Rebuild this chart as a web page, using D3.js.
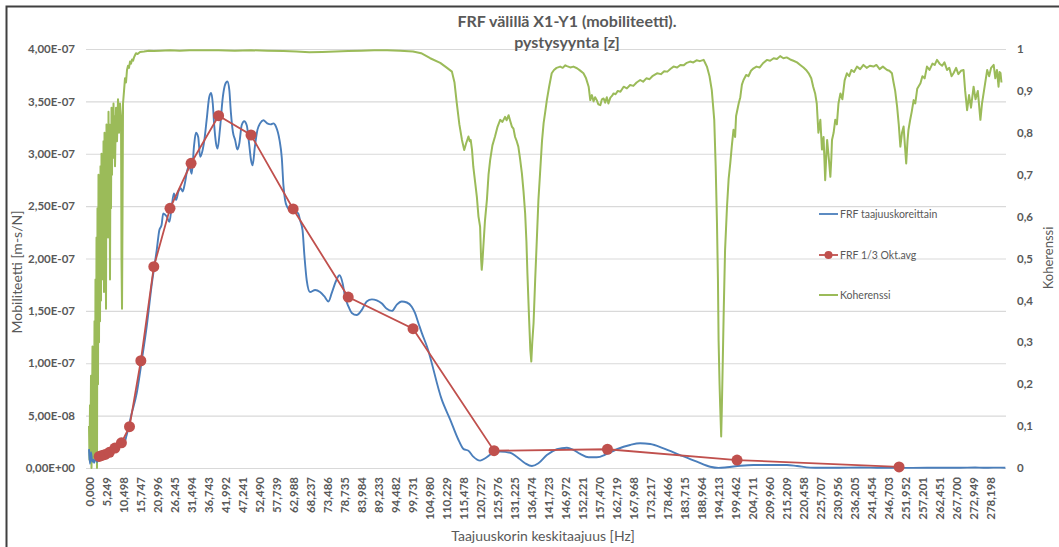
<!DOCTYPE html>
<html>
<head>
<meta charset="utf-8">
<script src="https://cdn.jsdelivr.net/npm/d3@7"></script>
<style>
  html, body { margin: 0; padding: 0; background: #fff; }
  svg { display: block; font-family: Lato, "Open Sans", sans-serif; }
</style>
</head>
<body>
<svg id="chart" width="1059" height="547"></svg>
<script>
// ---- Data -----------------------------------------------------------------

const titleLines = ["FRF välillä X1-Y1 (mobiliteetti).", "pystysyynta [z]"];
const xAxisTitle = "Taajuuskorin keskitaajuus [Hz]";
const yLeftTitle = "Mobiliteetti [m-s/N]";
const yRightTitle = "Koherenssi";
const seriesNames = ["FRF taajuuskoreittain", "FRF 1/3 Okt.avg", "Koherenssi"];

// Bin-centre frequency labels shown under the axis [Hz]
const xTickLabels = [
  "0,000","5,249","10,498","15,747","20,996","26,245","31,494","36,743","41,992","47,241",
  "52,490","57,739","62,988","68,237","73,486","78,735","83,984","89,233","94,482","99,731",
  "104,980","110,229","115,478","120,727","125,976","131,225","136,474","141,723","146,972","152,221",
  "157,470","162,719","167,968","173,217","178,466","183,715","188,964","194,213","199,462","204,711",
  "209,960","215,209","220,458","225,707","230,956","236,205","241,454","246,703","251,952","257,201",
  "262,451","267,700","272,949","278,198"
];
const yLeftTicks = [0, 5e-8, 1e-7, 1.5e-7, 2e-7, 2.5e-7, 3e-7, 3.5e-7, 4e-7];
const yRightTicks = [0, 0.1, 0.2, 0.3, 0.4, 0.5, 0.6, 0.7, 0.8, 0.9, 1];

// FRF values are listed in units of 1e-8 m-s/N
const frfUnit = 1e-8;

// FRF per frequency bin: [Hz, mobility / 1e-8]
const frfPerBin = [
  [0.0,1.8],[0.3,0.4],[0.6,1.5],[1.0,0.6],[1.3,0.8],[1.6,0.5],[2.0,0.9],[2.5,0.6],[3.0,0.8],
  [3.5,1.1],[4.0,0.9],[4.5,1.3],[5.0,1.2],[5.5,1.4],[6.0,1.2],[6.5,1.6],[7.0,1.5],[7.5,1.8],
  [8.0,1.6],[8.5,2.0],[9.0,1.7],[9.5,2.4],[10.0,2.2],[10.5,2.8],[11.0,2.5],[11.5,3.0],[12.0,3.6],
  [13.0,5.0],[14.7,7.1],[16.3,10.3],[17.8,13.5],[19.4,17.6],[20.9,20.8],[21.7,22.7],[22.4,23.2],
  [22.9,24.3],[24.0,24.0],[24.8,23.5],[25.5,24.9],[26.2,26.2],[26.9,25.6],[27.6,26.4],[28.3,26.7],
  [28.9,26.4],[29.6,27.2],[30.3,28.4],[31.0,28.8],[31.7,28.1],[32.4,30.7],[33.0,32.0],[33.7,31.6],
  [34.3,29.7],[35.1,30.4],[35.6,31.3],[36.3,33.2],[37.1,35.4],[37.7,35.8],[38.2,34.8],[38.6,32.9],
  [39.2,31.0],[39.7,30.5],[40.4,32.3],[41.3,35.4],[42.0,36.6],[42.7,36.9],[43.3,36.1],[43.8,33.9],
  [44.4,32.1],[45.1,31.3],[45.8,30.4],[46.4,31.0],[47.1,32.7],[47.9,33.1],[48.7,32.7],[49.4,31.0],
  [50.0,29.4],[50.5,28.9],[51.2,30.7],[52.0,32.3],[52.8,32.9],[53.8,33.2],[55.0,32.9],[56.1,32.8],
  [56.9,32.9],[57.7,32.6],[58.8,31.3],[59.5,29.6],[60.0,27.0],[60.5,25.6],[61.2,24.9],[62.1,24.6],
  [63.6,24.5],[64.6,24.3],[65.1,23.7],[65.9,22.7],[66.5,20.2],[67.2,17.9],[68.2,16.8],[69.8,17.0],
  [71.3,16.8],[72.6,16.4],[73.9,15.9],[74.9,16.7],[76.3,17.9],[77.3,18.4],[78.3,17.6],[79.0,16.4],
  [80.1,15.4],[81.1,14.8],[82.6,14.6],[84.2,15.1],[85.7,15.9],[87.3,16.1],[88.8,16.0],[90.4,15.7],
  [91.9,15.2],[93.5,15.0],[95.0,15.6],[96.5,15.9],[98.1,15.8],[99.6,15.4],[100.6,14.8],[101.7,13.8],
  [102.7,12.9],[104.3,11.6],[108.9,6.5],[111.5,4.6],[114.0,2.7],[115.6,1.8],[117.1,1.65],[118.6,1.08],
  [120.7,0.70],[122.3,0.93],[124.8,1.46],[126.9,1.56],[130.0,1.46],[132.0,1.08],[134.6,0.45],
  [136.7,0.19],[138.7,0.45],[141.3,1.24],[144.4,1.79],[147.5,1.94],[149.5,1.72],[151.6,1.34],
  [154.2,1.02],[156.7,1.02],[159.8,1.34],[162.9,1.79],[167.0,2.20],[170.1,2.36],[173.2,2.29],
  [177.3,1.88],[182.4,1.24],[187.6,0.60],[191.7,0.12],[194.3,0.01],[196.9,0.07],[201.0,0.22],
  [205.1,0.29],[210.2,0.29],[215.4,0.29],[218.5,0.19],[222.6,0.04],[225.7,0.02],[230.8,0.02],
  [238.0,0.05],[243.2,0.03],[250.4,0.01],[258.6,0.02],[268.9,0.03],[273.5,0.05],[276.0,0.02],
  [279.1,0.04],[282.8,0.03]
];

// One-third octave band averages: [centre Hz, mobility / 1e-8]
const frfThirdOctave = [
  [3.15,1.10],[4,1.20],[5,1.30],[6.3,1.50],[8,1.90],[10,2.40],[12.5,3.94],[16,10.24],[20,19.22],
  [25,24.79],[31.5,29.09],[40,33.63],[50,31.79],[63,24.73],[80,16.32],[100,13.30],[125,1.65],
  [160,1.79],[200,0.76],[250,0.10]
];

// Coherence per frequency bin: [Hz, coherence]
const coherence = [
  [0.00,0.10],[0.15,0.02],[0.31,0.15],[0.46,0.05],[0.62,0.22],[0.77,0.00],[0.93,0.12],[1.08,0.29],
  [1.23,0.02],[1.39,0.25],[1.54,0.08],[1.70,0.35],[1.85,0.03],[2.00,0.45],[2.16,0.12],[2.32,0.55],
  [2.47,0.00],[2.62,0.62],[2.78,0.20],[2.93,0.70],[3.09,0.30],[3.24,0.60],[3.40,0.35],[3.55,0.72],
  [3.70,0.40],[3.86,0.75],[4.01,0.45],[4.17,0.68],[4.32,0.50],[4.48,0.78],[4.63,0.42],[4.79,0.80],
  [4.94,0.55],[5.09,0.72],[5.25,0.38],[5.40,0.82],[5.56,0.60],[5.71,0.75],[5.87,0.55],[6.02,0.85],
  [6.17,0.60],[6.33,0.82],[6.48,0.45],[6.64,0.80],[6.79,0.62],[6.95,0.86],[7.10,0.70],[7.26,0.85],
  [7.41,0.74],[7.56,0.87],[7.72,0.76],[7.87,0.84],[8.03,0.72],[8.34,0.86],[8.64,0.78],[8.95,0.88],
  [9.26,0.80],[9.57,0.87],[9.88,0.84],[10.03,0.50],[10.19,0.38],[10.34,0.60],[10.50,0.87],
  [10.81,0.90],[11.11,0.93],[11.42,0.92],[11.73,0.95],[12.04,0.96],[12.35,0.955],[12.66,0.97],
  [12.97,0.965],[13.28,0.975],[13.60,0.972],[13.89,0.98],[14.20,0.985],[14.51,0.99],[15.00,0.988],
  [15.75,0.993],[17,0.994],[18.5,0.996],[20,0.995],[22,0.996],[25,0.997],[28,0.996],[31,0.997],
  [35,0.997],[40,0.997],[45,0.996],[50,0.997],[55,0.996],[60,0.995],[64,0.994],[68,0.992],[72,0.993],
  [76,0.994],[80,0.995],[84,0.996],[88,0.997],[92,0.997],[96,0.996],[100,0.994],[102.5,0.990],
  [105.3,0.978],[108.4,0.967],[110.5,0.955],[112.0,0.946],[112.8,0.92],[113.5,0.871],[114.3,0.82],
  [115.1,0.783],[115.8,0.759],[116.4,0.775],[117.1,0.791],[117.5,0.780],[117.8,0.783],[118.2,0.76],
  [118.6,0.719],[119.2,0.68],[119.7,0.647],[120.2,0.60],[120.7,0.576],[121.0,0.50],[121.2,0.473],
  [121.4,0.49],[121.7,0.528],[122.2,0.59],[122.8,0.640],[123.3,0.70],[123.8,0.735],[124.5,0.77],
  [125.3,0.791],[126.1,0.815],[126.9,0.831],[127.6,0.826],[128.4,0.838],[128.9,0.830],[129.5,0.842],
  [130.0,0.828],[130.5,0.815],[131.0,0.81],[131.5,0.79],[132.0,0.78],[132.5,0.767],[133.0,0.74],
  [133.6,0.703],[134.1,0.66],[134.6,0.608],[135.0,0.54],[135.3,0.465],[135.8,0.36],[136.2,0.282],
  [136.5,0.254],[136.8,0.30],[137.2,0.346],[137.7,0.45],[138.2,0.544],[138.7,0.64],[139.2,0.703],
  [139.8,0.78],[140.3,0.823],[140.8,0.85],[141.3,0.878],[142.0,0.91],[142.8,0.942],[143.5,0.950],
  [144.3,0.955],[145.4,0.958],[146.2,0.955],[147.0,0.961],[147.5,0.959],[148.5,0.956],[149.5,0.958],
  [150.6,0.954],[151.5,0.949],[152.6,0.942],[153.4,0.93],[154.2,0.910],[154.7,0.878],[155.2,0.89],
  [155.7,0.875],[156.2,0.885],[156.7,0.878],[157.2,0.868],[157.8,0.866],[158.3,0.88],[158.8,0.882],
  [159.3,0.872],[159.8,0.885],[160.3,0.870],[160.9,0.884],[161.4,0.888],[161.9,0.894],[162.5,0.892],
  [163.2,0.900],[164.0,0.898],[165.0,0.910],[166,0.906],[167,0.914],[168,0.912],[169,0.920],
  [170.1,0.926],[171,0.922],[172,0.930],[173,0.928],[174,0.936],[175.3,0.942],[176.5,0.940],
  [177.5,0.947],[178.5,0.946],[179.5,0.953],[180.4,0.958],[181.5,0.956],[182.5,0.962],[183.5,0.961],
  [184.5,0.967],[185.5,0.970],[186.5,0.968],[187.5,0.973],[188.5,0.971],[189.7,0.974],[190.2,0.966],
  [190.7,0.958],[191.5,0.935],[192.2,0.902],[192.96,0.831],[193.4,0.72],[193.8,0.585],[194.1,0.45],
  [194.3,0.305],[194.6,0.20],[194.8,0.146],[195.1,0.075],[195.3,0.14],[195.6,0.258],[195.9,0.38],
  [196.3,0.52],[196.9,0.624],[197.4,0.69],[197.9,0.727],[198.4,0.77],[198.9,0.807],[199.4,0.79],
  [199.7,0.84],[200.5,0.870],[201.0,0.885],[201.5,0.915],[202.0,0.926],[202.8,0.938],[203.5,0.935],
  [204.3,0.948],[205.1,0.954],[206,0.958],[207,0.956],[208,0.966],[209.2,0.974],[210.2,0.972],
  [211.3,0.978],[212.3,0.976],[213.3,0.983],[214.3,0.978],[215.3,0.980],[216.4,0.975],[217.4,0.972],
  [218.5,0.968],[219.5,0.962],[220.5,0.956],[221.3,0.950],[222.1,0.942],[222.9,0.93],[223.5,0.91],
  [224.1,0.894],[224.6,0.87],[225.1,0.80],[225.7,0.831],[226.2,0.76],[226.7,0.79],[227.2,0.687],
  [227.5,0.74],[227.8,0.783],[228.3,0.74],[228.8,0.695],[229.1,0.74],[229.3,0.783],[229.8,0.80],
  [230.3,0.831],[230.8,0.82],[231.3,0.870],[231.9,0.894],[232.5,0.88],[233.2,0.925],[233.9,0.942],
  [234.6,0.935],[235.3,0.950],[236.1,0.945],[237.0,0.958],[238,0.952],[239,0.962],[240,0.955],
  [241,0.960],[242.1,0.958],[243,0.962],[244,0.952],[245,0.958],[246.3,0.950],[247.0,0.948],
  [247.8,0.942],[248.3,0.92],[248.8,0.90],[249.4,0.862],[249.9,0.82],[250.4,0.767],[250.9,0.80],
  [251.4,0.815],[251.8,0.77],[252.2,0.727],[252.6,0.78],[252.9,0.807],[253.4,0.83],[253.9,0.85],
  [254.5,0.878],[255.0,0.87],[255.6,0.905],[256.6,0.918],[257.2,0.935],[257.9,0.93],[258.6,0.958],
  [259.4,0.95],[260.3,0.965],[261.0,0.962],[261.7,0.974],[262.5,0.965],[263.3,0.960],[264.0,0.968],
  [264.8,0.950],[265.5,0.955],[266.2,0.935],[266.8,0.942],[267.6,0.955],[268.3,0.940],[269.1,0.948],
  [269.9,0.950],[270.4,0.90],[271.0,0.854],[271.6,0.89],[272.2,0.86],[273.0,0.910],[273.6,0.88],
  [274.3,0.90],[275.1,0.831],[275.6,0.87],[276.2,0.90],[277.2,0.950],[277.8,0.935],[278.4,0.955],
  [279.2,0.962],[279.7,0.93],[280.2,0.95],[280.7,0.910],[281.0,0.945],[281.3,0.943],[281.6,0.92]
];

// ---- Layout ---------------------------------------------------------------

const W = 1059, H = 547;
const plot = { left: 86, right: 1006, top: 49, bottom: 468 };
const colors = { frf: "#4a7ebb", avg: "#c0504d", coh: "#9bbb59", text: "#595959", grid: "#d9d9d9" };

const svg = d3.select("#chart");

// chart frame
svg.append("rect")
  .attr("x", 6.5).attr("y", 6.5)
  .attr("width", W + 20).attr("height", H + 20)
  .attr("fill", "#fff").attr("stroke", "#404040").attr("stroke-width", 2);

const x = d3.scaleLinear().domain([0, 283]).range([89, plot.right]);
const yL = d3.scaleLinear().domain([0, 4e-7]).range([plot.bottom, plot.top]);
const yR = d3.scaleLinear().domain([0, 1]).range([plot.bottom, plot.top]);

const parseNum = s => +s.replace(",", ".");

// number formats with decimal comma
const sciFmt = v => {
  const [m, e] = v.toExponential(2).split("e");
  const sign = e[0] === "-" ? "-" : "+";
  const digits = e.replace(/[+-]/, "").padStart(2, "0");
  return m.replace(".", ",") + "E" + sign + digits;
};
const cohFmt = v => d3.format("~g")(+v.toFixed(2)).replace(".", ",");

// gridlines (primary axis)
svg.append("g")
  .attr("transform", `translate(${plot.left},0)`)
  .call(d3.axisLeft(yL).tickValues(yLeftTicks).tickSize(-(plot.right - plot.left)).tickFormat(""))
  .call(g => g.select(".domain").remove())
  .call(g => g.selectAll("line").attr("stroke", colors.grid).attr("stroke-width", 1.2));

// left axis labels
svg.append("g")
  .attr("transform", `translate(${plot.left},0)`)
  .call(d3.axisLeft(yL).tickValues(yLeftTicks).tickSize(0).tickPadding(11).tickFormat(sciFmt))
  .call(g => g.select(".domain").remove())
  .call(g => g.selectAll("text")
    .attr("fill", colors.text).style("font-size", "11.5px").style("font-weight", "bold")
    .style("font-family", "Lato, sans-serif"));

// right axis labels
svg.append("g")
  .attr("transform", `translate(${plot.right},0)`)
  .call(d3.axisRight(yR).tickValues(yRightTicks).tickSize(0).tickPadding(11).tickFormat(cohFmt))
  .call(g => g.select(".domain").remove())
  .call(g => g.selectAll("text")
    .attr("fill", colors.text).style("font-size", "11.5px").style("font-weight", "bold")
    .style("font-family", "Lato, sans-serif"));

// bottom axis labels, rotated
svg.append("g")
  .attr("transform", `translate(0,${plot.bottom})`)
  .call(d3.axisBottom(x)
    .tickValues(xTickLabels.map(parseNum))
    .tickSize(0)
    .tickFormat((d, i) => xTickLabels[i]))
  .call(g => g.select(".domain").remove())
  .call(g => g.selectAll("text")
    .attr("transform", "rotate(-90)")
    .attr("x", -9).attr("y", 0).attr("dy", "0.35em")
    .style("text-anchor", "end")
    .attr("fill", colors.text).style("font-size", "11.5px").style("font-weight", "bold")
    .style("font-family", "Lato, sans-serif"));

// ---- Series ---------------------------------------------------------------

const cohLine = d3.line().x(d => x(d[0])).y(d => yR(d[1]));
svg.append("path")
  .datum(coherence)
  .attr("d", cohLine)
  .attr("fill", "none").attr("stroke", colors.coh).attr("stroke-width", 2)
  .attr("stroke-linejoin", "round");

const frfLine = d3.line().curve(d3.curveMonotoneX)
  .x(d => x(d[0])).y(d => yL(d[1] * frfUnit));
svg.append("path")
  .datum(frfPerBin)
  .attr("d", frfLine)
  .attr("fill", "none").attr("stroke", colors.frf).attr("stroke-width", 1.9)
  .attr("stroke-linejoin", "round");

const avgLine = d3.line().x(d => x(d[0])).y(d => yL(d[1] * frfUnit));
svg.append("path")
  .datum(frfThirdOctave)
  .attr("d", avgLine)
  .attr("fill", "none").attr("stroke", colors.avg).attr("stroke-width", 1.8);
svg.append("g").selectAll("circle")
  .data(frfThirdOctave)
  .join("circle")
  .attr("cx", d => x(d[0])).attr("cy", d => yL(d[1] * frfUnit))
  .attr("r", 5.5).attr("fill", colors.avg);

// ---- Titles ---------------------------------------------------------------

const title = svg.append("text")
  .attr("text-anchor", "middle")
  .attr("fill", colors.text).style("font-size", "16px").style("font-weight", "bold");
titleLines.forEach((t, i) => title.append("tspan").attr("x", 567).attr("y", 27 + i * 21).text(t));

svg.append("text")
  .attr("x", 543).attr("y", 541)
  .attr("text-anchor", "middle")
  .attr("fill", colors.text).style("font-size", "14px")
  .text(xAxisTitle);

svg.append("text")
  .attr("transform", "translate(22,272) rotate(-90)")
  .attr("text-anchor", "middle")
  .attr("fill", colors.text).style("font-size", "14px")
  .text(yLeftTitle);

svg.append("text")
  .attr("transform", "translate(1053,258) rotate(-90)")
  .attr("text-anchor", "middle")
  .attr("fill", colors.text).style("font-size", "13px")
  .text(yRightTitle);

// ---- Legend ---------------------------------------------------------------

const legendY = [214, 255, 295];
const legend = svg.append("g");
seriesNames.forEach((name, i) => {
  const col = [colors.frf, colors.avg, colors.coh][i];
  legend.append("line")
    .attr("x1", 819).attr("x2", 838).attr("y1", legendY[i]).attr("y2", legendY[i])
    .attr("stroke", col).attr("stroke-width", i === 2 ? 2 : 1.8);
  if (i === 1) {
    legend.append("circle").attr("cx", 828.5).attr("cy", legendY[i]).attr("r", 4).attr("fill", col);
  }
  legend.append("text")
    .attr("x", 840).attr("y", legendY[i]).attr("dy", "0.35em")
    .attr("fill", colors.text).style("font-size", "10.5px")
    .text(name);
});
</script>
</body>
</html>
